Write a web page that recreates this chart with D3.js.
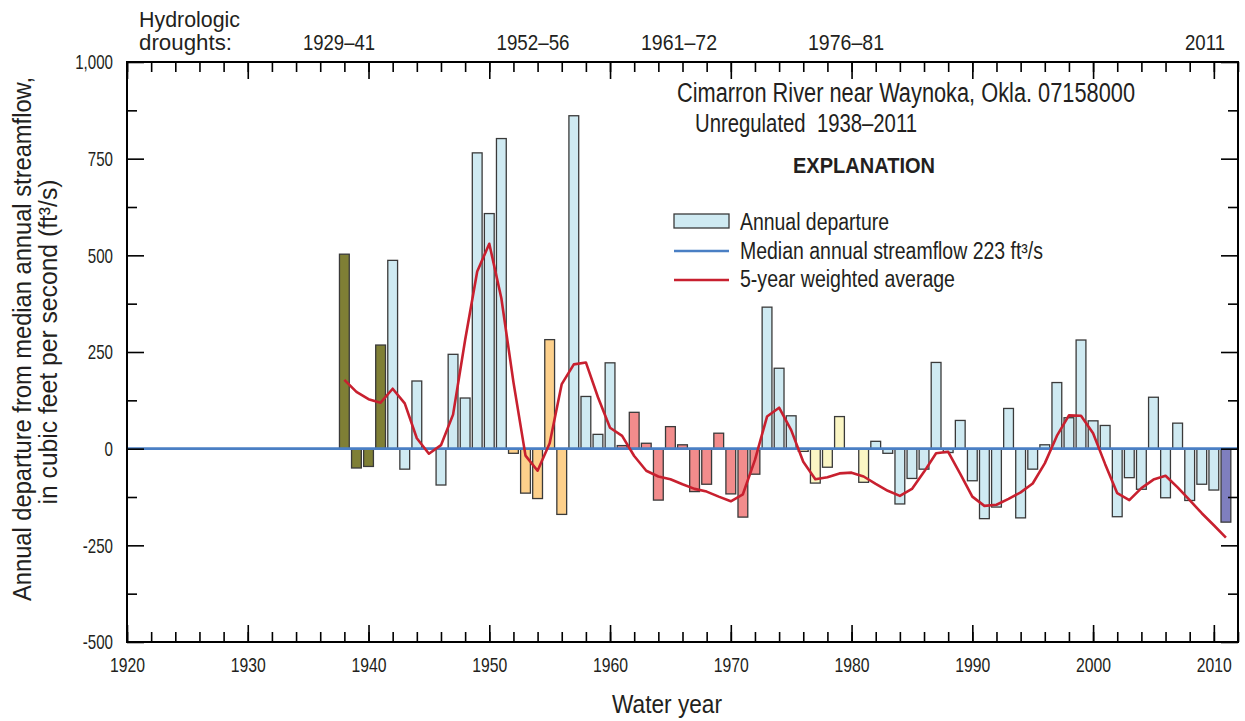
<!DOCTYPE html>
<html><head><meta charset="utf-8">
<script src="https://cdn.jsdelivr.net/npm/d3@7"></script>
<style>
html,body{margin:0;padding:0;background:#fff;}
svg{display:block;}
text{font-family:"Liberation Sans",Arial,sans-serif;fill:#231f20;}
.tick text{font-size:21px;}
</style></head><body>
<svg id="chart" width="1245" height="721"></svg>
<script>
// ---------- data ----------
const years = d3.range(1938, 2012);
const departures = [
  503, -50, -46, 268, 487, -53, 175, 0, -94, 244,      // 1938-1947
  131, 765, 608, 802, -12, -115, -129, 282, -170, 861, // 1948-1957
  135, 37, 222, 8, 94, 14, -133, 57, 10, -111,         // 1958-1967
  -92, 40, -117, -177, -66, 366, 208, 85, -7, -89,     // 1968-1977
  -48, 83, 0, -87, 19, -12, -143, -77, -53, 223,       // 1978-1987
  -10, 73, -83, -181, -151, 104, -179, -53, 10, 171,   // 1988-1997
  80, 281, 72, 60, -176, -75, -105, 133, -127, 66,     // 1998-2007
  -134, -92, -107, -190                                // 2008-2011
];
const weightedAvg = [
  178, 147, 128, 119, 155, 117, 27, -13, 9, 88,        // 1938-1947
  281, 458, 530, 389, 172, -18, -57, 14, 167, 218,     // 1948-1957
  223, 133, 54, 33, -19, -57, -72, -79, -92, -104,     // 1958-1967
  -111, -124, -136, -118, -29, 83, 106, 48, -34, -79,  // 1968-1977
  -74, -64, -62, -72, -91, -109, -122, -104, -60, -12, // 1978-1987
  -8, -65, -124, -148, -145, -130, -113, -90, -38, 33, // 1988-1997
  86, 85, 40, -40, -115, -133, -102, -80, -70, -100,   // 1998-2007
  -133, -167, -198, -230                               // 2008-2011
];
const droughtLabels = ["1929–41", "1952–56", "1961–72", "1976–81", "2011"];
const droughtStart = [1929, 1952, 1961, 1976, 2011];
const droughtEnd   = [1941, 1956, 1972, 1981, 2011];
const droughtColors = ["#7f7f35", "#fdd08b", "#f28c8c", "#fbf6c4", "#7f7fbf"];
const baseColor = "#cfeaf2";
const xMajorTicks = d3.range(1920, 2011, 10);
const xMinorTicks = d3.range(1920, 2013, 2);
const yTickValues = [-500, -250, 0, 250, 500, 750, 1000];
const yTickLabels = ["-500", "-250", "0", "250", "500", "750", "1,000"];
const yMinorTicks = [-375, -125, 125, 375, 625, 875];
const medianFlow = 223;

// ---------- layout ----------
const svg = d3.select("#chart");
const L = 127, R = 1238, T = 62, B = 642;
const x = d3.scaleLinear().domain([1920, 2012]).range([L, R]);
const y = d3.scaleLinear().domain([-500, 1000]).range([B, T]);
const bw = 9.8;

function colorFor(yr) {
  for (let i = 0; i < droughtStart.length; i++) {
    if (yr >= droughtStart[i] && yr <= droughtEnd[i]) return droughtColors[i];
  }
  return baseColor;
}
function fit(sel, w) { return sel.attr("textLength", w).attr("lengthAdjust", "spacingAndGlyphs"); }
function condense(sel, f) {
  sel.each(function () {
    const w = this.getComputedTextLength();
    if (w > 0) d3.select(this).attr("textLength", w * f).attr("lengthAdjust", "spacingAndGlyphs");
  });
}

// bars
const data = years.map((yr, i) => ({yr, v: departures[i], a: weightedAvg[i]}));
svg.append("g").selectAll("rect").data(data).join("rect")
  .attr("x", d => x(d.yr) - bw / 2)
  .attr("width", bw)
  .attr("y", d => y(Math.max(d.v, 0)))
  .attr("height", d => Math.abs(y(d.v) - y(0)))
  .attr("fill", d => colorFor(d.yr))
  .attr("stroke", "#3a3a3a")
  .attr("stroke-width", 1.3);

// median line (zero departure)
svg.append("line")
  .attr("x1", L).attr("x2", R)
  .attr("y1", y(0)).attr("y2", y(0))
  .attr("stroke", "#4a7fc4").attr("stroke-width", 2.6);

// weighted average line
svg.append("path").datum(data)
  .attr("fill", "none")
  .attr("stroke", "#c8202f")
  .attr("stroke-width", 2.6)
  .attr("stroke-linejoin", "round")
  .attr("d", d3.line().x(d => x(d.yr)).y(d => y(d.a)));

// ---------- axes ----------
function styleAxis(g) {
  g.select(".domain").remove();
  g.attr("font-size", null).attr("font-family", null);
  g.selectAll(".tick line").attr("stroke", "#000").attr("stroke-width", 1.6);
  g.selectAll(".tick text").attr("fill", "#231f20");
}
// bottom
svg.append("g").attr("transform", `translate(0,${B})`)
  .call(d3.axisBottom(x).tickValues(xMinorTicks).tickSize(-10).tickFormat(""))
  .call(styleAxis);
svg.append("g").attr("transform", `translate(0,${B})`)
  .call(d3.axisBottom(x).tickValues(xMajorTicks).tickSize(-17).tickPadding(15).tickFormat(d3.format("d")))
  .call(styleAxis)
  .call(g => g.selectAll(".tick text").call(condense, 0.75));
// top
svg.append("g").attr("transform", `translate(0,${T})`)
  .call(d3.axisTop(x).tickValues(xMinorTicks).tickSize(-10).tickFormat(""))
  .call(styleAxis);
svg.append("g").attr("transform", `translate(0,${T})`)
  .call(d3.axisTop(x).tickValues(xMajorTicks).tickSize(-17).tickFormat(""))
  .call(styleAxis);
// left
svg.append("g").attr("transform", `translate(${L},0)`)
  .call(d3.axisLeft(y).tickValues(yMinorTicks).tickSize(-10).tickFormat(""))
  .call(styleAxis);
svg.append("g").attr("transform", `translate(${L},0)`)
  .call(d3.axisLeft(y).tickValues(yTickValues).tickSize(-17).tickPadding(14)
        .tickFormat((d, i) => yTickLabels[i]))
  .call(styleAxis)
  .call(g => g.selectAll(".tick text").call(condense, 0.72));
// right
svg.append("g").attr("transform", `translate(${R},0)`)
  .call(d3.axisRight(y).tickValues(yMinorTicks).tickSize(-10).tickFormat(""))
  .call(styleAxis);
svg.append("g").attr("transform", `translate(${R},0)`)
  .call(d3.axisRight(y).tickValues(yTickValues).tickSize(-17).tickFormat(""))
  .call(styleAxis);

// frame
svg.append("rect").attr("x", L).attr("y", T).attr("width", R - L).attr("height", B - T)
  .attr("fill", "none").attr("stroke", "#000").attr("stroke-width", 2);

// ---------- text ----------
// drought header
svg.append("text").attr("x", 139).attr("y", 27).attr("font-size", 22).call(fit, 101).text("Hydrologic");
svg.append("text").attr("x", 139).attr("y", 50).attr("font-size", 22).call(fit, 93).text("droughts:");
const droughtLabelX = [339, 533, 679, 846, 1205];
const droughtLabelW = [72, 73, 76, 76, 40];
svg.append("g").selectAll("text").data(droughtLabels).join("text")
  .attr("x", (d, i) => droughtLabelX[i]).attr("y", 50)
  .attr("text-anchor", "middle").attr("font-size", 22)
  .attr("textLength", (d, i) => droughtLabelW[i]).attr("lengthAdjust", "spacingAndGlyphs")
  .text(d => d);

// title block
svg.append("text").attr("x", 677).attr("y", 102).attr("font-size", 27).call(fit, 458)
  .text("Cimarron River near Waynoka, Okla. 07158000");
svg.append("text").attr("x", 695).attr("y", 132).attr("font-size", 25).call(fit, 222)
  .attr("xml:space", "preserve").text("Unregulated  1938–2011");
svg.append("text").attr("x", 793).attr("y", 173).attr("font-size", 22.5)
  .attr("font-weight", "bold").call(fit, 142).text("EXPLANATION");

// legend
svg.append("rect").attr("x", 674).attr("y", 214).attr("width", 55).attr("height", 14)
  .attr("fill", baseColor).attr("stroke", "#3a3a3a").attr("stroke-width", 1.3);
svg.append("text").attr("x", 740).attr("y", 230).attr("font-size", 23).call(fit, 149).text("Annual departure");
svg.append("line").attr("x1", 674).attr("x2", 729).attr("y1", 251).attr("y2", 251)
  .attr("stroke", "#4a7fc4").attr("stroke-width", 2.6);
svg.append("text").attr("x", 740).attr("y", 259).attr("font-size", 23).call(fit, 303)
  .text(`Median annual streamflow ${medianFlow} ft³/s`);
svg.append("line").attr("x1", 674).attr("x2", 729).attr("y1", 280).attr("y2", 280)
  .attr("stroke", "#c8202f").attr("stroke-width", 2.6);
svg.append("text").attr("x", 740).attr("y", 287).attr("font-size", 23).call(fit, 215).text("5-year weighted average");

// axis titles
svg.append("text").attr("x", 667).attr("y", 713).attr("text-anchor", "middle")
  .attr("font-size", 25).call(fit, 110).text("Water year");
svg.append("g").attr("transform", "translate(31,339) rotate(-90)")
  .append("text").attr("text-anchor", "middle").attr("font-size", 26).call(fit, 524)
  .text("Annual departure from median annual streamflow,");
svg.append("g").attr("transform", "translate(57,342) rotate(-90)")
  .append("text").attr("text-anchor", "middle").attr("font-size", 26).call(fit, 325)
  .text("in cubic feet per second (ft³/s)");
</script>
</body></html>
